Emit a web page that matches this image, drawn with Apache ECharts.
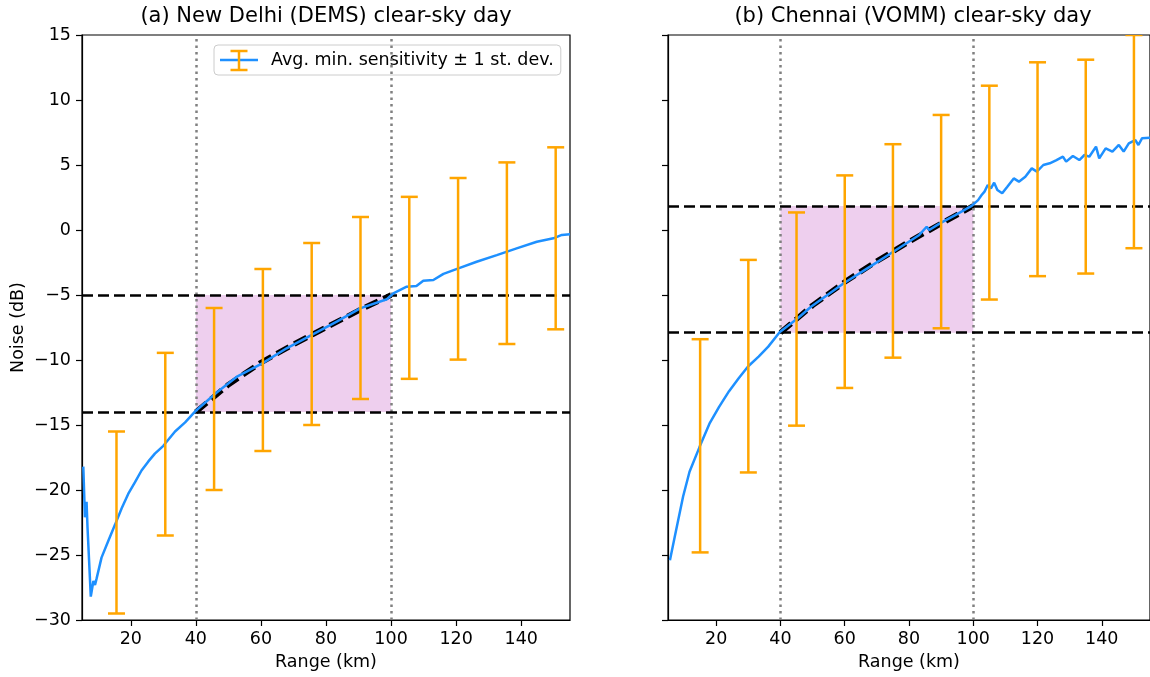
<!DOCTYPE html>
<html>
<head>
<meta charset="utf-8">
<title>Minimum sensitivity vs range</title>
<script src="https://cdn.jsdelivr.net/npm/echarts/dist/echarts.min.js"></script>
<style>
  html, body { margin: 0; padding: 0; background: #fff; }
  #chart { width: 1150px; height: 677px; }
</style>
</head>
<body>
<div id="chart"></div>
<script>
// ---------- data ----------
const xTicks = [20, 40, 60, 80, 100, 120, 140];
const fitWindow = [40, 100];

// (a) New Delhi (DEMS)
const delhiRange = [5.4, 5.9, 6.4, 6.7, 7.7, 8.5, 9.0, 9.5, 11.0, 13.1, 15.1, 17.2, 19.2, 21.3, 23.3, 25.4, 27.4, 30.0,
  33.6, 36.7, 40.0, 46.4, 52.5, 60.4, 67.9, 75.5, 83.3, 90.5, 98.7, 100.7, 104.8, 107.8, 109.9, 113.0, 116.1,
  120.7, 126.3, 132.5, 138.6, 144.8, 149.9, 152.5, 155.0];
const delhiNoise = [-18.2, -22.1, -20.9, -22.9, -28.2, -27.0, -27.3, -26.8, -25.2, -23.9, -22.7, -21.4, -20.3, -19.4, -18.5, -17.8, -17.2, -16.6,
  -15.5, -14.8, -13.9, -12.5, -11.3, -10.26, -9.1, -8.08, -7.05, -6.03, -5.33, -4.87, -4.36, -4.3, -3.9, -3.85, -3.38,
  -2.95, -2.44, -1.93, -1.41, -0.9, -0.64, -0.38, -0.33];
const delhiBarRange = [15.6, 30.6, 45.6, 60.6, 75.6, 90.6, 105.6, 120.6, 135.6, 150.6];
const delhiBarLow = [-29.5, -23.5, -20.0, -17.0, -15.0, -13.0, -11.45, -9.97, -8.77, -7.64];
const delhiBarHigh = [-15.5, -9.45, -6.0, -3.0, -1.0, 1.0, 2.55, 4.0, 5.2, 6.36];
const delhiFitRange = [40, 50, 60, 70, 80, 90, 100];
const delhiFit = [-14.0, -11.9, -10.2, -8.8, -7.5, -6.2, -5.0];
const delhiLevels = [-14.0, -5.0];

// (b) Chennai (VOMM)
const chennaiRange = [5.6, 7.1, 9.7, 11.7, 14.8, 17.9, 20.9, 24.0, 27.0, 29.9, 33.2, 36.2, 39.8, 45.4, 49.5, 59.7,
  67.9, 75.1, 83.2, 85.5, 86.3, 89.6, 94.4, 99.5, 101.5, 102.6, 103.5, 104.5, 105.5, 106.5, 107.5, 109.0, 110.6,
  112.6, 114.2, 116.2, 118.2, 119.8, 121.8, 123.8, 125.9, 127.9, 128.9, 131.0, 133.0, 134.6, 136.1, 138.2, 139.2,
  141.2, 143.3, 145.3, 146.8, 148.4, 150.4, 151.4, 152.5, 155.0];
const chennaiNoise = [-25.4, -23.6, -20.5, -18.6, -16.7, -14.9, -13.6, -12.4, -11.4, -10.5, -9.74, -8.97, -7.85, -6.79, -5.9, -4.1,
  -2.82, -1.67, -0.38, 0.25, 0.0, 0.51, 1.15, 1.85, 2.3, 2.69, 2.95, 3.46, 3.2, 3.64, 3.08, 2.82, 3.33,
  3.97, 3.72, 4.1, 4.74, 4.49, 5.0, 5.13, 5.38, 5.64, 5.26, 5.69, 5.38, 5.77, 5.64, 6.41, 5.51,
  6.28, 6.03, 6.54, 6.03, 6.67, 6.92, 6.54, 7.05, 7.1];
const chennaiBarRange = [15, 30, 45, 60, 75, 90, 105, 120, 135, 150];
const chennaiBarLow = [-24.8, -18.65, -15.05, -12.15, -9.82, -7.56, -5.35, -3.55, -3.35, -1.4];
const chennaiBarHigh = [-8.4, -2.3, 1.35, 4.2, 6.6, 8.85, 11.1, 12.9, 13.1, 15.0];
const chennaiFitRange = [40, 50, 60, 70, 80, 90, 100];
const chennaiFit = [-7.9, -5.8, -4.0, -2.4, -0.9, 0.5, 1.85];
const chennaiLevels = [-7.9, 1.85];

const titles = ['(a) New Delhi (DEMS) clear-sky day', '(b) Chennai (VOMM) clear-sky day'];
const legendLabel = 'Avg. min. sensitivity \u00b1 1 st. dev.';

// ---------- styling ----------
const FONT = 'DejaVu Sans';
const BLUE = '#1E90FF';
const ORANGE = '#FFA500';
const LABEL_SIZE = 17.5;
const TITLE_SIZE = 21;

const zip = (a, b) => a.map((v, i) => [v, b[i]]);
const zip3 = (a, b, c) => a.map((v, i) => [v, b[i], c[i]]);
const minusFmt = v => (v < 0 ? '\u2212' + Math.abs(v) : String(v));

function errorBarItem(params, api) {
  const x = api.value(0);
  const lo = api.coord([x, api.value(1)]);
  const hi = api.coord([x, api.value(2)]);
  const cap = 8.5;
  const style = { stroke: ORANGE, lineWidth: 2.5, fill: null };
  return {
    type: 'group',
    children: [
      { type: 'line', shape: { x1: lo[0], y1: lo[1], x2: hi[0], y2: hi[1] }, style },
      { type: 'line', shape: { x1: lo[0] - cap, y1: lo[1], x2: lo[0] + cap, y2: lo[1] }, style },
      { type: 'line', shape: { x1: hi[0] - cap, y1: hi[1], x2: hi[0] + cap, y2: hi[1] }, style }
    ]
  };
}

function panelSeries(idx, lineName, range, noise, barX, barLo, barHi, fitX, fitY, levels) {
  const ax = { xAxisIndex: idx, yAxisIndex: idx };
  return [
    { // range-window boundaries
      ...ax, type: 'line', data: [], z: 1, silent: true,
      markLine: {
        silent: true, symbol: ['none', 'none'], label: { show: false }, animation: false,
        lineStyle: { color: '#808080', type: [2.5, 4], width: 2.5 },
        emphasis: { disabled: true },
        data: fitWindow.map(v => ({ xAxis: v }))
      }
    },
    { // fitted region
      ...ax, type: 'line', data: [], z: 2, silent: true,
      markArea: {
        silent: true, label: { show: false }, animation: false,
        itemStyle: { color: 'rgba(221,160,221,0.5)' },
        emphasis: { disabled: true },
        data: [[{ xAxis: fitWindow[0], yAxis: levels[0] }, { xAxis: fitWindow[1], yAxis: levels[1] }]]
      }
    },
    { // noise levels at the window edges
      ...ax, type: 'line', data: [], z: 3, silent: true,
      markLine: {
        silent: true, symbol: ['none', 'none'], label: { show: false }, animation: false,
        lineStyle: { color: '#000', type: [11, 5], width: 2.6 },
        emphasis: { disabled: true },
        data: levels.map(v => ({ yAxis: v }))
      }
    },
    { // fit
      ...ax, type: 'line', name: 'fit' + idx, z: 4, silent: true,
      symbol: 'none', showSymbol: false,
      lineStyle: { color: '#000', width: 5.5, type: [14, 6] },
      data: zip(fitX, fitY)
    },
    { // average minimum sensitivity
      ...ax, type: 'line', name: lineName, z: 5, silent: true,
      symbol: 'none', showSymbol: false,
      itemStyle: { color: BLUE },
      lineStyle: { color: BLUE, width: 2.5 },
      data: zip(range, noise)
    },
    { // +/- 1 standard deviation
      ...ax, type: 'custom', name: 'sd' + idx, z: 6, silent: true, clip: true,
      renderItem: errorBarItem,
      encode: { x: 0, y: [1, 2] },
      data: zip3(barX, barLo, barHi)
    }
  ];
}

function xAxisFor(idx) {
  return {
    type: 'value', gridIndex: idx, min: 5, max: 155,
    axisLine: { show: true, onZero: false, lineStyle: { color: '#000', width: 1.2 } },
    axisTick: { show: true, length: 6, customValues: xTicks, lineStyle: { color: '#000', width: 1.2 } },
    axisLabel: { customValues: xTicks, fontSize: LABEL_SIZE, color: '#000', fontFamily: FONT, margin: 10 },
    splitLine: { show: false },
    name: 'Range (km)', nameLocation: 'middle', nameGap: 33,
    nameTextStyle: { fontSize: LABEL_SIZE, color: '#000', fontFamily: FONT }
  };
}

function yAxisFor(idx) {
  return {
    type: 'value', gridIndex: idx, min: -30, max: 15, interval: 5,
    axisLine: { show: true, onZero: false, lineStyle: { color: '#000', width: 1.2 } },
    axisTick: { show: true, length: 6, lineStyle: { color: '#000', width: 1.2 } },
    axisLabel: { show: idx === 0, formatter: minusFmt, fontSize: LABEL_SIZE, color: '#000', fontFamily: FONT, margin: 11 },
    splitLine: { show: false },
    name: idx === 0 ? 'Noise (dB)' : '', nameLocation: 'middle', nameGap: 55,
    nameTextStyle: { fontSize: LABEL_SIZE, color: '#000', fontFamily: FONT }
  };
}

const chart = echarts.init(document.getElementById('chart'), null, { renderer: 'canvas' });

const beam = (x1, y1, x2, y2) => ({
  type: 'line', z: 100, silent: true,
  shape: { x1, y1, x2, y2 },
  style: { stroke: ORANGE, lineWidth: 2.5 }
});

chart.setOption({
  animation: false,
  backgroundColor: '#fff',
  textStyle: { fontFamily: FONT },
  title: [
    { text: titles[0], left: 326, top: 6, textAlign: 'center', padding: 0,
      textStyle: { fontSize: TITLE_SIZE, fontWeight: 'normal', color: '#000', fontFamily: FONT } },
    { text: titles[1], left: 913, top: 6, textAlign: 'center', padding: 0,
      textStyle: { fontSize: TITLE_SIZE, fontWeight: 'normal', color: '#000', fontFamily: FONT } }
  ],
  grid: [
    { left: 82, top: 35, width: 488, height: 585, show: true, borderColor: '#000', borderWidth: 1.2, backgroundColor: 'transparent' },
    { left: 668, top: 35, width: 490, height: 585, show: true, borderColor: '#000', borderWidth: 1.2, backgroundColor: 'transparent' }
  ],
  xAxis: [xAxisFor(0), xAxisFor(1)],
  yAxis: [yAxisFor(0), yAxisFor(1)],
  legend: {
    data: [legendLabel],
    selectedMode: false,
    left: 214, top: 45,
    padding: [6, 7, 6, 6],
    icon: 'rect', itemWidth: 38, itemHeight: 2.5,
    backgroundColor: 'rgba(255,255,255,0.8)',
    borderColor: '#cccccc', borderWidth: 1, borderRadius: 4,
    textStyle: { fontSize: LABEL_SIZE, color: '#000', fontFamily: FONT, padding: [0, 0, 0, 8] }
  },
  graphic: [
    // error-bar glyph drawn over the legend's line icon
    beam(239, 51, 239, 70),
    beam(230.5, 51, 247.5, 51),
    beam(230.5, 70, 247.5, 70)
  ],
  series: [
    ...panelSeries(0, legendLabel, delhiRange, delhiNoise, delhiBarRange, delhiBarLow, delhiBarHigh, delhiFitRange, delhiFit, delhiLevels),
    ...panelSeries(1, 'Chennai average', chennaiRange, chennaiNoise, chennaiBarRange, chennaiBarLow, chennaiBarHigh, chennaiFitRange, chennaiFit, chennaiLevels)
  ]
});
</script>
</body>
</html>
